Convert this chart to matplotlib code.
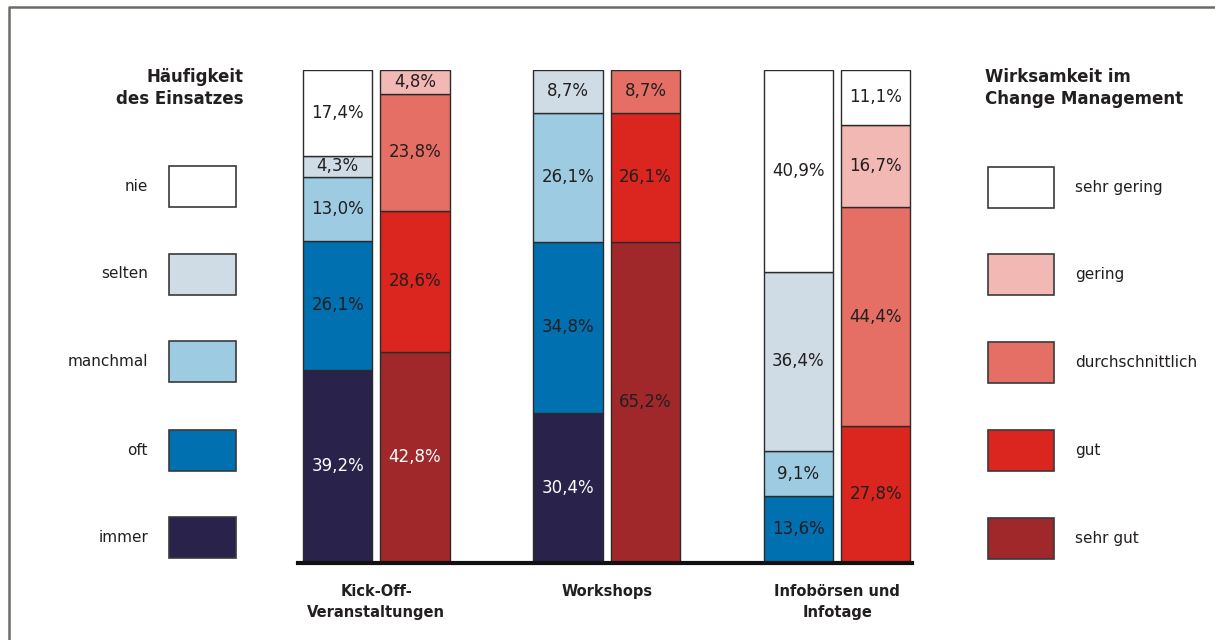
import numpy as np
import matplotlib.pyplot as plt
from matplotlib.patches import Rectangle
from matplotlib.lines import Line2D

categories = ['Kick-Off-\nVeranstaltungen', 'Workshops', 'Infobörsen und\nInfotage']

# Häufigkeit des Einsatzes, stacked bottom-up
freq_levels = ['immer', 'oft', 'manchmal', 'selten', 'nie']
freq_kickoff = [39.2, 26.1, 13.0, 4.3, 17.4]
freq_workshops = [30.4, 34.8, 26.1, 8.7, 0.0]
freq_info = [0.0, 13.6, 9.1, 36.4, 40.9]

# Wirksamkeit im Change Management, stacked bottom-up
eff_levels = ['sehr gut', 'gut', 'durchschnittlich', 'gering', 'sehr gering']
eff_kickoff = [42.8, 28.6, 23.8, 4.8, 0.0]
eff_workshops = [65.2, 26.1, 8.7, 0.0, 0.0]
eff_info = [0.0, 27.8, 44.4, 16.7, 11.1]

freq_colors = ['#29224a', '#0070b0', '#9ccbe2', '#cfdce6', '#ffffff']
eff_colors = ['#a0282a', '#da261f', '#e56f64', '#f2b8b3', '#ffffff']

# segments whose value label is printed in white
white_labels = {(0, 'freq', 'immer'), (0, 'eff', 'sehr gut'), (1, 'freq', 'immer')}

W, H = 1215, 640
fig = plt.figure(figsize=(W / 100, H / 100), dpi=100)
fig.patch.set_facecolor('white')

def px(x, y):
    return x / W, 1 - y / H

# frame (left + top)
frame = Line2D([9 / W, 9 / W, 1.0], [0.0, 1 - 7 / H, 1 - 7 / H],
               transform=fig.transFigure, color='#6e6a66', lw=1.8)
fig.add_artist(frame)

ax = fig.add_axes([298 / W, 1 - 563 / H, (912 - 298) / W, 493 / H])
ax.set_xlim(-0.34, 2.325)
ax.set_ylim(0, 100)

x = np.arange(len(categories))
width = 0.30
off = 0.168
text_dark = '#231f20'

def stack(xpos, values, levels, colors, group, kind):
    bottom = 0.0
    for val, lev, col in zip(values, levels, colors):
        if val <= 0:
            continue
        ax.bar(xpos, val, width, bottom=bottom, color=col,
               edgecolor='#2b2b2b', linewidth=1.0, zorder=2)
        tc = 'white' if (group, kind, lev) in white_labels else text_dark
        ax.text(xpos, bottom + val / 2, '{:.1f}%'.format(val).replace('.', ','),
                ha='center', va='center', fontsize=12, color=tc, zorder=3)
        bottom += val

freq_all = [freq_kickoff, freq_workshops, freq_info]
eff_all = [eff_kickoff, eff_workshops, eff_info]
for i in range(len(categories)):
    stack(x[i] - off, freq_all[i], freq_levels, freq_colors, i, 'freq')
    stack(x[i] + off, eff_all[i], eff_levels, eff_colors, i, 'eff')

for s in ['top', 'left', 'right']:
    ax.spines[s].set_visible(False)
ax.spines['bottom'].set_linewidth(3)
ax.spines['bottom'].set_color('#111111')
ax.set_yticks([])
ax.set_xticks(x)
ax.set_xticklabels(categories, fontsize=10.5, fontweight='bold', color=text_dark,
                   linespacing=1.5)
ax.tick_params(axis='x', length=0, pad=15)

# left legend
fig.text(*px(243, 68), 'Häufigkeit\ndes Einsatzes', ha='right', va='top',
         fontsize=12, fontweight='bold', color=text_dark, linespacing=1.3)
left_y = [537.5, 450.5, 361.5, 274, 186.5]
for lev, col, yc in zip(freq_levels, freq_colors, left_y):
    x0, y0 = px(169, yc + 20.5)
    fig.add_artist(Rectangle((x0, y0), 67 / W, 41 / H, transform=fig.transFigure,
                             facecolor=col, edgecolor='#3a3a3a', lw=1.2))
    fig.text(*px(148, yc), lev, ha='right', va='center', fontsize=11, color=text_dark)

# right legend
fig.text(*px(985, 68), 'Wirksamkeit im\nChange Management', ha='left', va='top',
         fontsize=12, fontweight='bold', color=text_dark, linespacing=1.3)
right_y = [538.5, 450.5, 362.5, 274.5, 187.5]
for lev, col, yc in zip(eff_levels, eff_colors, right_y):
    x0, y0 = px(988, yc + 20.5)
    fig.add_artist(Rectangle((x0, y0), 66 / W, 41 / H, transform=fig.transFigure,
                             facecolor=col, edgecolor='#3a3a3a', lw=1.2))
    fig.text(*px(1075, yc), lev, ha='left', va='center', fontsize=11, color=text_dark)

fig.savefig('out.png', dpi=100)
